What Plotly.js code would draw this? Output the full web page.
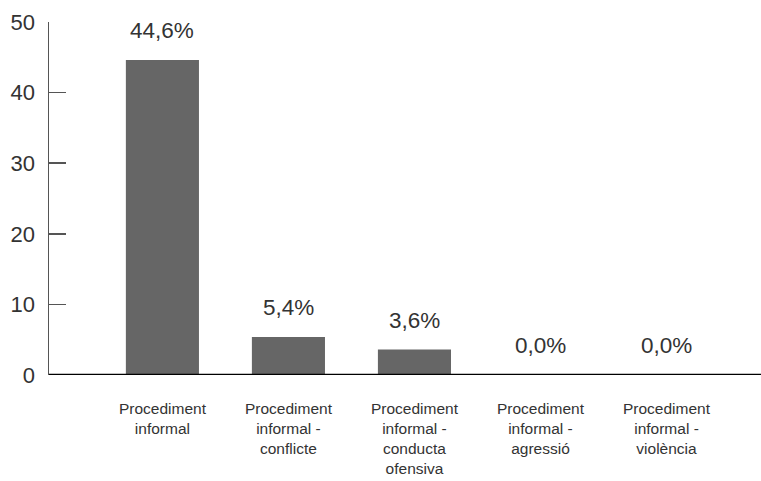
<!DOCTYPE html>
<html>
<head>
<meta charset="utf-8">
<script src="https://cdn.plot.ly/plotly-3.0.1.min.js"></script>
<style>html,body{margin:0;padding:0;background:#fff;}#chart{width:761px;height:481px;}</style>
</head>
<body>
<div id="chart"></div>
<script>
var categories = [
  "Procediment<br>informal",
  "Procediment<br>informal -<br>conflicte",
  "Procediment<br>informal -<br>conducta<br>ofensiva",
  "Procediment<br>informal -<br>agressió",
  "Procediment<br>informal -<br>violència"
];
var values = [44.6, 5.4, 3.6, 0.0, 0.0];
var valueLabels = ["44,6%", "5,4%", "3,6%", "0,0%", "0,0%"];
var yTicks = [0, 10, 20, 30, 40, 50];

var idx = categories.map(function(_, i){ return i; });
var font = "Liberation Sans, Arial, sans-serif";

var trace = {
  type: "bar",
  x: idx,
  y: values,
  width: 0.58,
  marker: {color: "#666666"},
  hoverinfo: "skip"
};

var annotations = idx.map(function(i){
  return {
    x: i, y: values[i], xref: "x", yref: "y",
    text: valueLabels[i], showarrow: false,
    yanchor: "bottom", yshift: 15,
    font: {family: font, size: 22.5, color: "#333333"}
  };
});

var layout = {
  width: 761, height: 481,
  margin: {l: 49, r: 0, t: 22, b: 106},
  paper_bgcolor: "#ffffff",
  plot_bgcolor: "#ffffff",
  showlegend: false,
  font: {family: font, color: "#333333"},
  xaxis: {
    range: [-0.9, 4.75],
    tickvals: idx,
    ticktext: categories,
    showgrid: false,
    zeroline: false,
    showline: false,
    ticks: "",
    ticklabelstandoff: 22,
    tickfont: {family: font, size: 15.5, color: "#333333"},
    fixedrange: true
  },
  yaxis: {
    range: [0, 50],
    tickvals: yTicks,
    ticktext: yTicks.map(String),
    showgrid: false,
    zeroline: false,
    showline: true,
    linecolor: "#555555",
    linewidth: 1.5,
    ticks: "inside",
    ticklen: 17,
    tickwidth: 1.5,
    tickcolor: "#555555",
    ticklabelstandoff: 8,
    tickfont: {family: font, size: 22, color: "#333333"},
    fixedrange: true
  },
  shapes: [{
    type: "line", xref: "paper", yref: "y",
    x0: 0, x1: 1, y0: 0, y1: 0,
    line: {color: "#000000", width: 2.5}
  }],
  annotations: annotations
};

Plotly.newPlot("chart", [trace], layout, {displayModeBar: false, staticPlot: true});
</script>
</body>
</html>
